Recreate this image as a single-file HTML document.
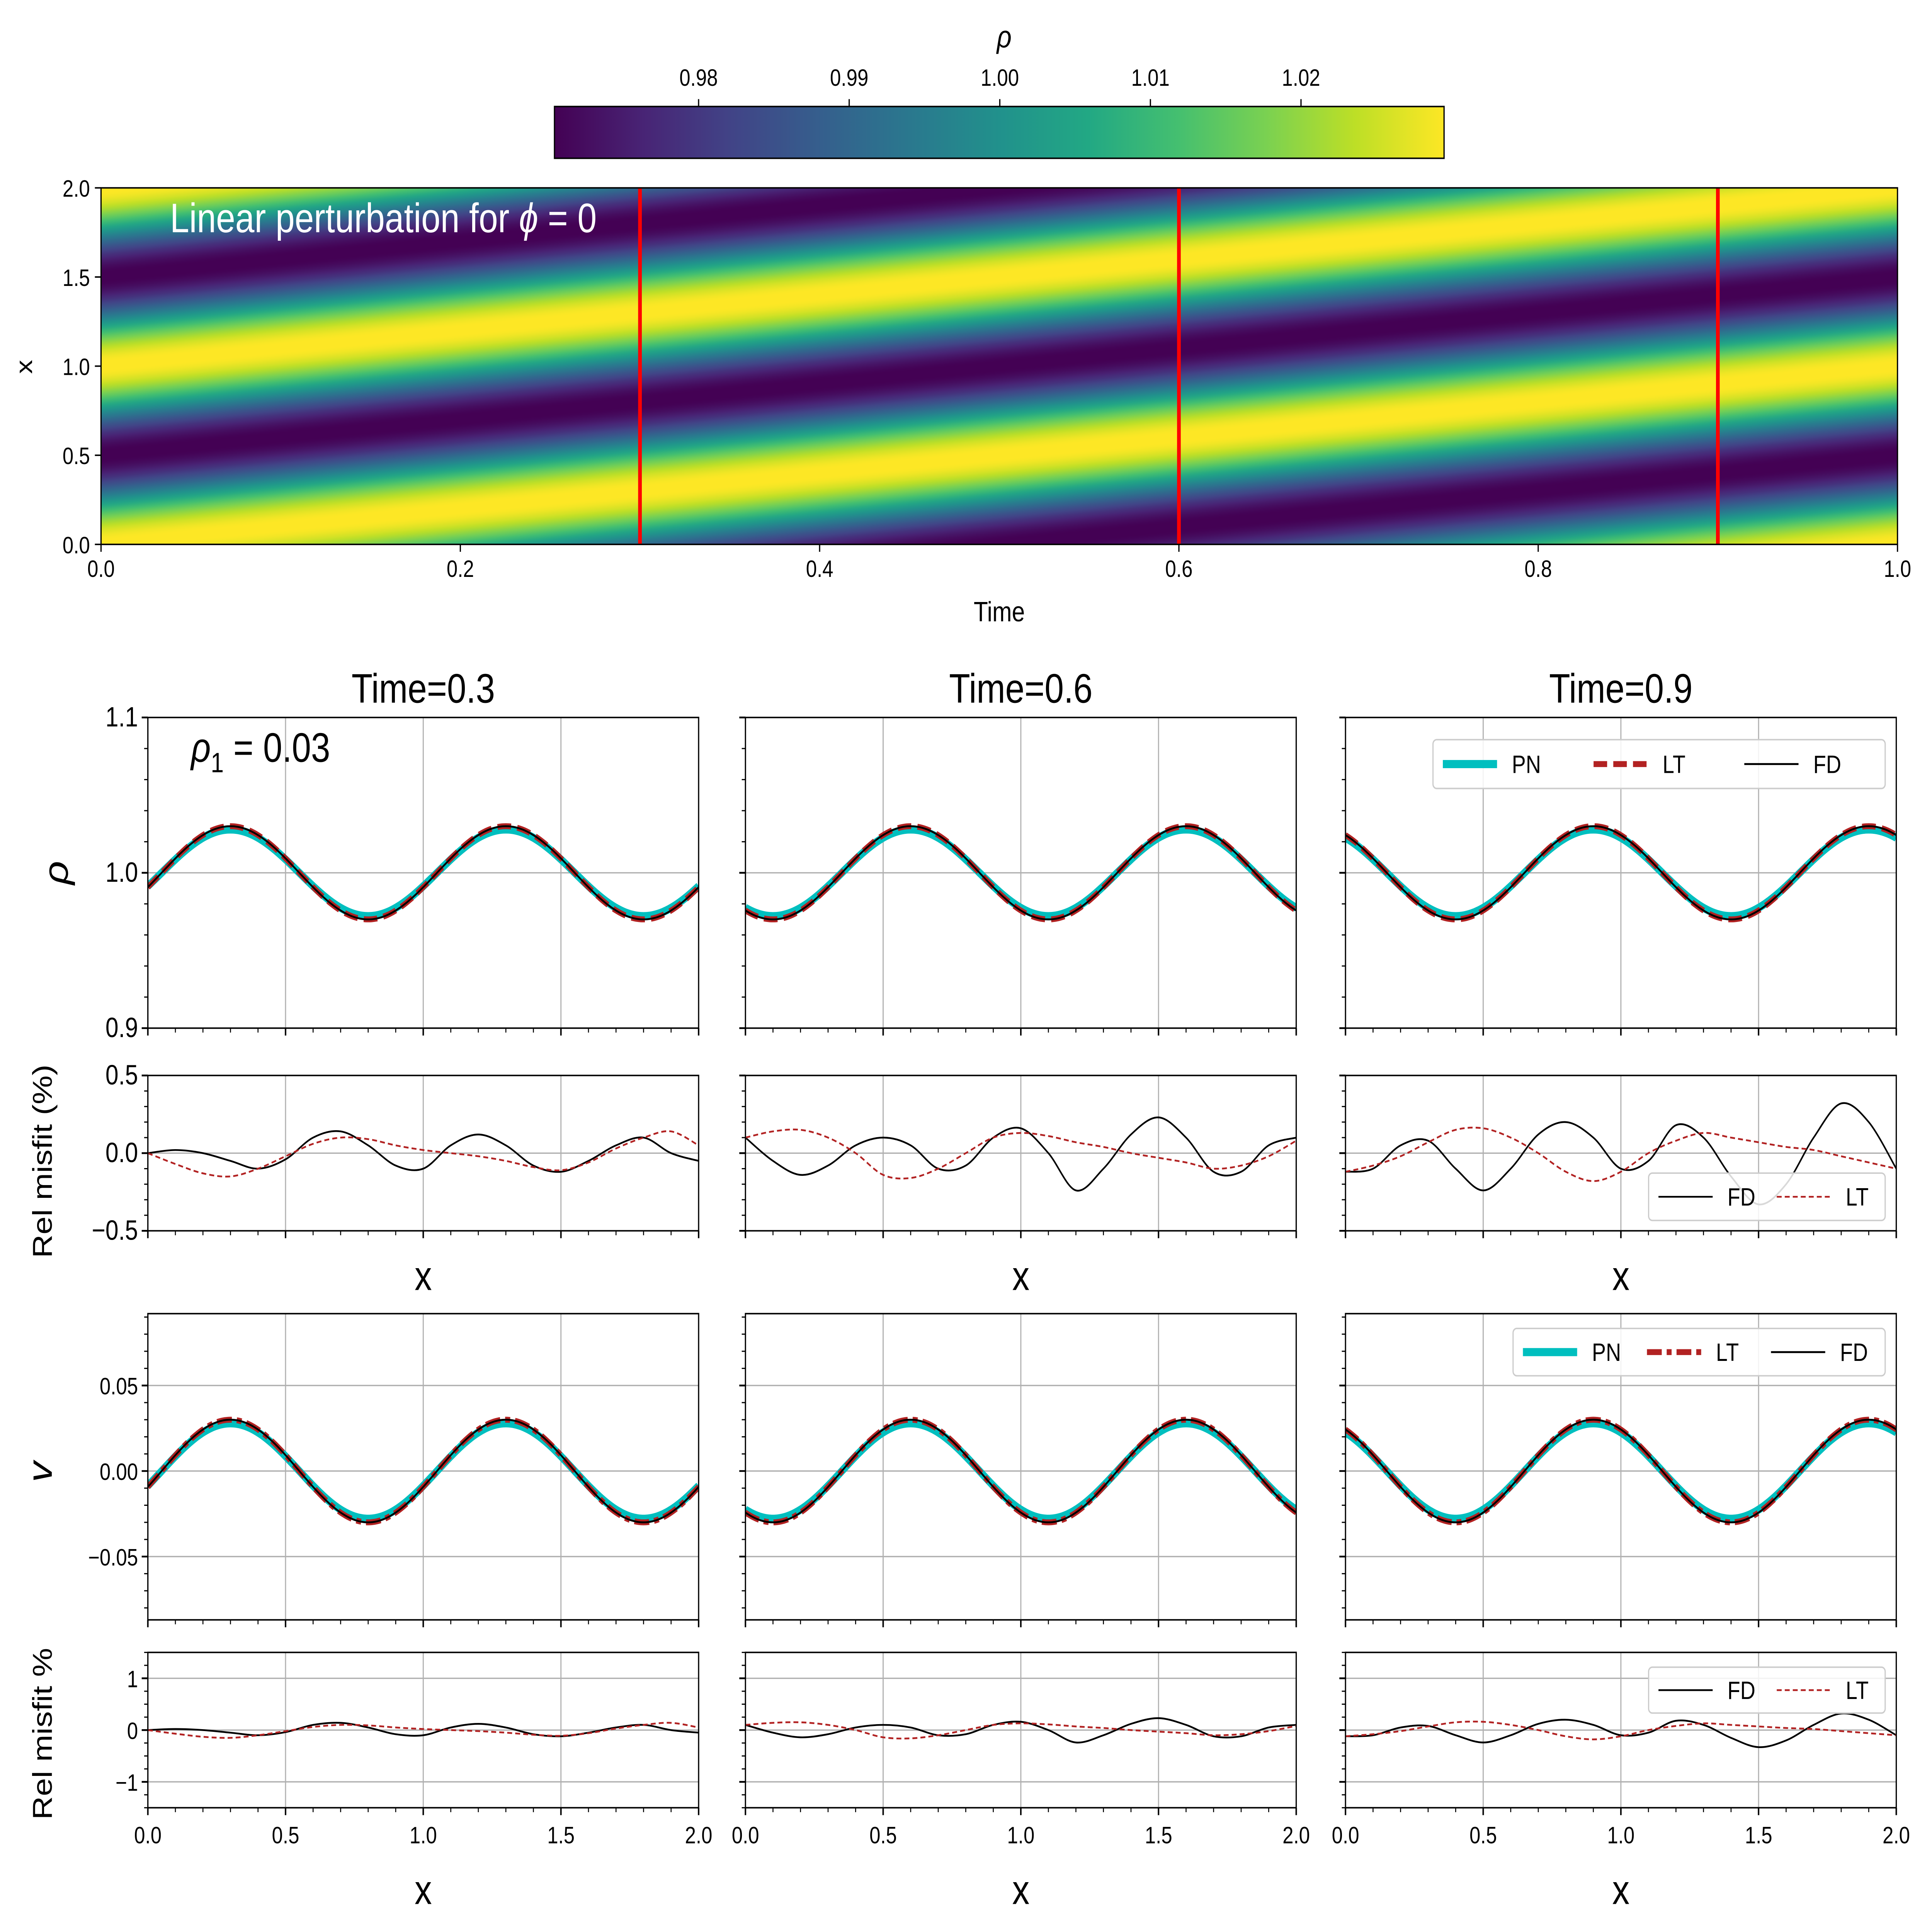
<!DOCTYPE html>
<html><head><meta charset="utf-8">
<style>
html,body{margin:0;padding:0;background:#fff;width:100%;height:100%;overflow:hidden;}
#main{display:block;width:100vw;height:100vh;}
text{font-family:"Liberation Sans","DejaVu Sans",sans-serif;}
</style></head>
<body>
<svg id="main" viewBox="0 0 1568 1306" preserveAspectRatio="none" xmlns="http://www.w3.org/2000/svg">
<defs>
<linearGradient id="vir" x1="0" x2="1" y1="0" y2="0">
<stop offset="0" stop-color="#440154"/><stop offset="0.1" stop-color="#482475"/><stop offset="0.2" stop-color="#414487"/><stop offset="0.3" stop-color="#355f8d"/><stop offset="0.4" stop-color="#2a788e"/><stop offset="0.5" stop-color="#21918c"/><stop offset="0.6" stop-color="#22a884"/><stop offset="0.7" stop-color="#44bf70"/><stop offset="0.8" stop-color="#7ad151"/><stop offset="0.9" stop-color="#bddf26"/><stop offset="1" stop-color="#fde725"/>
</linearGradient>
</defs>
<g id="root"></g>
</svg>
<script>
// ---- data ----
const cbTicks = [0.98, 0.99, 1.00, 1.01, 1.02];
const cbLabels = ["0.98", "0.99", "1.00", "1.01", "1.02"];
const cbRange = [0.97043, 1.0295];
const waveAmp = [0.03];
const waveSpeed = [1.0];
const snapTimes = [0.3, 0.6, 0.9];
const timeTicks = [0, 0.2, 0.4, 0.6, 0.8, 1.0];
const timeTickLabels = ["0.0", "0.2", "0.4", "0.6", "0.8", "1.0"];
const heatYTicks = [0, 0.5, 1.0, 1.5, 2.0];
const heatYLabels = ["0.0", "0.5", "1.0", "1.5", "2.0"];
const xTicks = [0, 0.5, 1.0, 1.5, 2.0];
const xTickLabels = ["0.0", "0.5", "1.0", "1.5", "2.0"];
const misfitX = [0,0.1,0.2,0.3,0.4,0.5,0.6,0.7,0.8,0.9,1.0,1.1,1.2,1.3,1.4,1.5,1.6,1.7,1.8,1.9,2.0];
const rhoMisfitFD = [
 [0.0,0.02,0.0,-0.05,-0.1,-0.04,0.1,0.14,0.05,-0.08,-0.1,0.05,0.12,0.05,-0.08,-0.12,-0.05,0.05,0.1,0.0,-0.05],
 [0.1,-0.05,-0.14,-0.08,0.05,0.1,0.05,-0.1,-0.08,0.1,0.16,0.0,-0.24,-0.1,0.12,0.23,0.1,-0.12,-0.12,0.05,0.1],
 [-0.12,-0.1,0.05,0.08,-0.1,-0.24,-0.1,0.12,0.2,0.1,-0.1,-0.05,0.18,0.1,-0.15,-0.33,-0.2,0.1,0.32,0.2,-0.1]];
const rhoMisfitLT = [
 [0.0,-0.07,-0.13,-0.15,-0.1,-0.02,0.06,0.1,0.09,0.05,0.02,0.0,-0.02,-0.05,-0.09,-0.11,-0.06,0.03,0.1,0.14,0.05],
 [0.1,0.14,0.15,0.1,0.0,-0.14,-0.16,-0.1,0.0,0.1,0.13,0.11,0.07,0.04,0.0,-0.03,-0.06,-0.1,-0.08,-0.02,0.08],
 [-0.12,-0.08,-0.02,0.07,0.15,0.16,0.1,0.0,-0.12,-0.18,-0.12,0.0,0.08,0.13,0.1,0.07,0.04,0.02,-0.02,-0.06,-0.1]];
const vMisfitFD = rhoMisfitFD.map(a => a.slice());
const vMisfitLT = rhoMisfitLT.map(a => a.slice());

// ---- helpers ----
const NS = "http://www.w3.org/2000/svg";
const root = document.getElementById('root');
const defs = document.querySelector('defs');
function mk(tag, attrs, parent) {
  const e = document.createElementNS(NS, tag);
  for (const k in attrs) e.setAttribute(k, attrs[k]);
  (parent || root).appendChild(e);
  return e;
}
function txt(str, x, y, size, anchor, parent, extra) {
  const t = mk('text', Object.assign({x: x, y: y, 'font-size': size, 'text-anchor': anchor || 'middle', fill: '#000'}, extra || {}), parent);
  t.textContent = str;
  return t;
}
const vir = ["#440154","#482475","#414487","#355f8d","#2a788e","#21918c","#22a884","#44bf70","#7ad151","#bddf26","#fde725"].map(h => [parseInt(h.slice(1,3),16),parseInt(h.slice(3,5),16),parseInt(h.slice(5,7),16)]);
function viridis(u) {
  u = Math.max(0, Math.min(1, u)) * 10;
  const i = Math.min(9, Math.floor(u)), f = u - i;
  return vir[i].map((c, k) => Math.round(c + (vir[i+1][k] - c) * f));
}

// ---- heatmap (repeating gradient along phase direction) ----
const HX0 = 82, HX1 = 1540, HY0 = 127, HY1 = 368;
const tx = t => HX0 + (HX1 - HX0) * t;
const hy = x => HY1 - (HY1 - HY0) * x / 2;
const gx = -waveSpeed[0] / (HX1 - HX0), gy = -1 / ((HY1 - HY0) / 2);
const g2 = gx * gx + gy * gy;
const hg = mk('linearGradient', {id: 'heatgrad', gradientUnits: 'userSpaceOnUse', spreadMethod: 'repeat',
  x1: HX0, y1: HY1, x2: HX0 + gx / g2, y2: HY1 + gy / g2}, defs);
for (let k = 0; k <= 80; k++) {
  const ph = k / 80;
  const rho = 1 + waveAmp[0] * Math.cos(2 * Math.PI * ph);
  const c = viridis((rho - cbRange[0]) / (cbRange[1] - cbRange[0]));
  mk('stop', {offset: ph, 'stop-color': 'rgb(' + c.join(',') + ')'}, hg);
}
const heatG = mk('g', {});


const hr = mk('rect', {x: HX0, y: HY0, width: HX1 - HX0, height: HY1 - HY0, fill: 'url(#heatgrad)'}, heatG);


snapTimes.forEach(t => {
  const l = mk('line', {x1: tx(t), x2: tx(t), y1: HY0, y2: HY1, stroke: '#ff0000', 'stroke-width': 3}, heatG);
  
  
});
mk('rect', {x: HX0, y: HY0, width: HX1 - HX0, height: HY1 - HY0, fill: 'none', stroke: '#000', 'stroke-width': 1}, heatG);
timeTicks.forEach((t, i) => {
  mk('line', {x1: tx(t), x2: tx(t), y1: HY1, y2: HY1 + 5, stroke: '#000', 'stroke-width': 1}, heatG);
  const lb = txt(timeTickLabels[i], tx(t), HY1 + 22, 16, 'middle', heatG);
  
  
});
heatYTicks.forEach((v, i) => {
  mk('line', {x1: HX0 - 5, x2: HX0, y1: hy(v), y2: hy(v), stroke: '#000', 'stroke-width': 1}, heatG);
  const lb = txt(heatYLabels[i], HX0 - 9, hy(v) + 6, 16, 'end', heatG);
  
  
});
const tl = txt('Time', 811, 420, 19, 'middle', heatG);


const xl = txt('x', 26, 248, 19, 'middle', heatG, {transform: 'rotate(-90 26 248)'});


const ht = mk('text', {x: 138, y: 157, 'font-size': 28, fill: '#fff'}, heatG);
ht.innerHTML = 'Linear perturbation for <tspan font-style="italic">ϕ</tspan> = 0';



// ---- colorbar ----
const CX0 = 450, CX1 = 1172, CY0 = 72, CY1 = 107;
const cbG = mk('g', {});


mk('rect', {x: CX0, y: CY0, width: CX1 - CX0, height: CY1 - CY0, fill: 'url(#vir)', stroke: '#000', 'stroke-width': 1}, cbG);
const cx = v => CX0 + (CX1 - CX0) * (v - cbRange[0]) / (cbRange[1] - cbRange[0]);
cbTicks.forEach((v, i) => {
  mk('line', {x1: cx(v), x2: cx(v), y1: CY0 - 5, y2: CY0, stroke: '#000', 'stroke-width': 1}, cbG);
  const lb = txt(cbLabels[i], cx(v), CY0 - 14, 16, 'middle', cbG);
  
  
});
const cbt = txt('ρ', 815, 32, 21, 'middle', cbG, {'font-style': 'italic'});



// ---- subplots ----
const colX = [120, 605, 1092], PW = 447;
const rows = [
  {top: 485, bot: 695, min: 0.9, max: 1.1, ticks: [0.9, 1.0, 1.1], labels: ["0.9", "1.0", "1.1"], minor: 0.02, name: 'rho'},
  {top: 727, bot: 832, min: -0.5, max: 0.5, ticks: [-0.5, 0, 0.5], labels: ["−0.5", "0.0", "0.5"], minor: 0.1, name: 'rho-misfit'},
  {top: 888, bot: 1095, min: -0.087, max: 0.092, ticks: [-0.05, 0, 0.05], labels: ["−0.05", "0.00", "0.05"], minor: 0.01, name: 'v'},
  {top: 1117, bot: 1222, min: -1.5, max: 1.5, ticks: [-1, 0, 1], labels: ["−1", "0", "1"], minor: 0.25, name: 'v-misfit'}
];
let clipN = 0;
function curvePath(xs, ys, X, Y) {
  const p = xs.map((x, i) => [X(x), Y(ys[i])]);
  let d = 'M' + p[0][0].toFixed(2) + ',' + p[0][1].toFixed(2);
  for (let i = 0; i < p.length - 1; i++) {
    const p0 = p[Math.max(0, i - 1)], p1 = p[i], p2 = p[i + 1], p3 = p[Math.min(p.length - 1, i + 2)];
    const c1 = [p1[0] + (p2[0] - p0[0]) / 6, p1[1] + (p2[1] - p0[1]) / 6];
    const c2 = [p2[0] - (p3[0] - p1[0]) / 6, p2[1] - (p3[1] - p1[1]) / 6];
    d += ' C' + c1.map(v => v.toFixed(2)).join(',') + ' ' + c2.map(v => v.toFixed(2)).join(',') + ' ' + p2.map(v => v.toFixed(2)).join(',');
  }
  return d;
}
const denseX = [];
for (let i = 0; i <= 200; i++) denseX.push(i / 100);

function legend(g, x0, y0, x1, y1, items) {
  const lg = mk('g', {}, g);
  
  
  mk('rect', {x: x0, y: y0, width: x1 - x0, height: y1 - y0, rx: 3, fill: '#fff', 'fill-opacity': 0.85, stroke: '#ccc', 'stroke-width': 1}, lg);
  const w = (x1 - x0) / items.length;
  const cy = (y0 + y1) / 2;
  items.forEach((it, i) => {
    const bx = x0 + i * w + 8;
    const ln = mk('line', Object.assign({x1: bx, x2: bx + 44, y1: cy, y2: cy}, it.style), lg);
    
    
    const lt = txt(it.label, bx + 56, cy + 6, 17, 'start', lg);
    
    
  });
}
const pnStyle = {stroke: '#00bfbf', 'stroke-width': 5.5, fill: 'none'};
const ltStyle = {stroke: '#b22222', 'stroke-width': 4, 'stroke-dasharray': '11,5', fill: 'none'};
const ltStyleV = {stroke: '#b22222', 'stroke-width': 4, 'stroke-dasharray': '12,4,4,4', fill: 'none'};
const fdStyle = {stroke: '#000', 'stroke-width': 1.3, fill: 'none'};
const fdMis = {stroke: '#000', 'stroke-width': 1.2, fill: 'none'};
const ltMis = {stroke: '#b22222', 'stroke-width': 1.2, 'stroke-dasharray': '4,2.5', fill: 'none'};

rows.forEach((r, ri) => {
  colX.forEach((x0, ci) => {
    const g = mk('g', {});
    
    
    const X = v => x0 + PW * v / 2;
    const Y = v => r.bot - (r.bot - r.top) * (v - r.min) / (r.max - r.min);
    xTicks.forEach(v => mk('line', {x1: X(v), x2: X(v), y1: r.top, y2: r.bot, stroke: '#b0b0b0', 'stroke-width': 0.9}, g));
    r.ticks.forEach(v => mk('line', {x1: x0, x2: x0 + PW, y1: Y(v), y2: Y(v), stroke: '#b0b0b0', 'stroke-width': 0.9}, g));
    const cid = 'cl' + (clipN++);
    const cp = mk('clipPath', {id: cid}, g);
    mk('rect', {x: x0, y: r.top, width: PW, height: r.bot - r.top}, cp);
    const cg = mk('g', {'clip-path': 'url(#' + cid + ')'}, g);
    const t = snapTimes[ci];
    if (ri === 0 || ri === 2) {
      const base = ri === 0 ? 1 : 0;
      const ys = denseX.map(x => base + waveAmp[0] * Math.cos(2 * Math.PI * (x - waveSpeed[0] * t)));
      const pnYs = denseX.map(x => base + 0.93 * waveAmp[0] * Math.cos(2 * Math.PI * (x - waveSpeed[0] * t)));
      const a = mk('path', Object.assign({d: curvePath(denseX, pnYs, X, Y)}, pnStyle), cg);
      
      
      const b = mk('path', Object.assign({d: curvePath(denseX, ys, X, Y)}, ri === 0 ? ltStyle : ltStyleV), cg);
      
      
      const c = mk('path', Object.assign({d: curvePath(denseX, ys, X, Y)}, fdStyle), cg);
      
      
    } else {
      const fd = ri === 1 ? rhoMisfitFD[ci] : vMisfitFD[ci];
      const lt = ri === 1 ? rhoMisfitLT[ci] : vMisfitLT[ci];
      const c = mk('path', Object.assign({d: curvePath(misfitX, fd, X, Y)}, fdMis), cg);
      
      
      const b = mk('path', Object.assign({d: curvePath(misfitX, lt, X, Y)}, ltMis), cg);
      
      
    }
    mk('rect', {x: x0, y: r.top, width: PW, height: r.bot - r.top, fill: 'none', stroke: '#000', 'stroke-width': 1}, g);
    for (let k = 0; k <= 20; k++) {
      const v = k / 10, major = k % 5 === 0;
      mk('line', {x1: X(v), x2: X(v), y1: r.bot, y2: r.bot + (major ? 5 : 3), stroke: '#000', 'stroke-width': major ? 1.2 : 0.8}, g);
    }
    if (ri === 3) {
      xTicks.forEach((v, i) => {
        const lb = txt(xTickLabels[i], X(v), r.bot + 24, 16, 'middle', g);
        
        
      });
    }
    if (ri === 1 || ri === 3) {
      const xt = txt('x', x0 + PW / 2, ri === 1 ? 872 : 1287, 28, 'middle', g);
      
      
    }
    const start = Math.ceil(r.min / r.minor - 1e-6);
    for (let k = start; k * r.minor <= r.max + 1e-9; k++) {
      const v = k * r.minor;
      mk('line', {x1: x0 - 3, x2: x0, y1: Y(v), y2: Y(v), stroke: '#000', 'stroke-width': 0.8}, g);
    }
    r.ticks.forEach((v, i) => {
      mk('line', {x1: x0 - 5, x2: x0, y1: Y(v), y2: Y(v), stroke: '#000', 'stroke-width': 1.2}, g);
      if (ci === 0) {
        const lb = txt(r.labels[i], x0 - 8, Y(v) + 6, ri === 1 || ri === 0 ? 19 : 16, 'end', g);
        
        
      }
    });
    if (ri === 0) {
      const tt = txt('Time=' + snapTimes[ci], x0 + PW / 2, 475, 28, 'middle', g);
      
      
    }
    if (ci === 2) {
      if (ri === 0) legend(g, 1163, 500, 1530, 533, [{label: 'PN', style: pnStyle}, {label: 'LT', style: ltStyle}, {label: 'FD', style: fdStyle}]);
      if (ri === 2) legend(g, 1228, 898, 1530, 930, [{label: 'PN', style: pnStyle}, {label: 'LT', style: ltStyleV}, {label: 'FD', style: fdStyle}]);
      if (ri === 1) legend(g, 1338, 793, 1530, 825, [{label: 'FD', style: fdMis}, {label: 'LT', style: ltMis}]);
      if (ri === 3) legend(g, 1338, 1127, 1530, 1158, [{label: 'FD', style: fdMis}, {label: 'LT', style: ltMis}]);
    }
  });
});
const yTitles = [
  {s: 'ρ', x: 55, y: 590, size: 28, it: true, n: 'rho-axis-title'},
  {s: 'Rel misfit (%)', x: 42, y: 785, size: 22, it: false, n: 'rho-misfit-axis-title'},
  {s: 'v', x: 42, y: 995, size: 28, it: true, n: 'v-axis-title'},
  {s: 'Rel misfit %', x: 42, y: 1172, size: 22, it: false, n: 'v-misfit-axis-title'}
];
yTitles.forEach(o => {
  const e = txt(o.s, o.x, o.y, o.size, 'middle', root, {transform: 'rotate(-90 ' + o.x + ' ' + o.y + ')', 'font-style': o.it ? 'italic' : 'normal'});
  
  
});
const ann = mk('text', {x: 155, y: 515, 'font-size': 28, fill: '#000'});
ann.innerHTML = '<tspan font-style="italic">ρ</tspan><tspan font-size="19" dy="7">1</tspan><tspan dy="-7"> = 0.03</tspan>';


</script>
</body></html>
